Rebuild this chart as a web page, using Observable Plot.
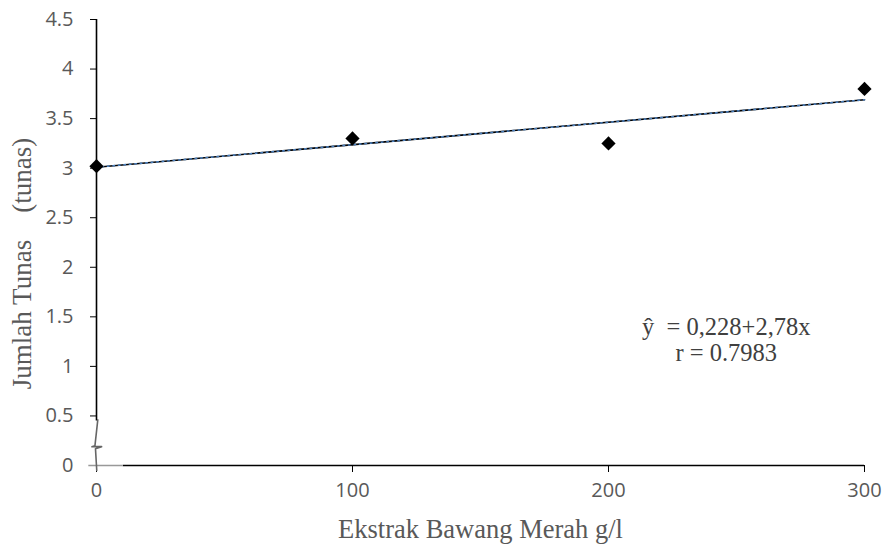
<!DOCTYPE html>
<html>
<head>
<meta charset="utf-8">
<script src="https://cdn.jsdelivr.net/npm/d3@7"></script>
<script src="https://cdn.jsdelivr.net/npm/@observablehq/plot@0.6"></script>
<style>
  body { margin: 0; background: #fff; }
  #chart svg { background: #fff; }
  #chart [aria-label="y-axis tick label"], #chart [aria-label="x-axis tick label"] { fill: #595959; font-size: 20px; }
  #chart [aria-label="y-axis tick label"] text, #chart [aria-label="x-axis tick label"] text { fill: #595959; font-size: 20px; }
</style>
</head>
<body>
<div id="chart"></div>
<script>
// Data
const concentrations = [0, 100, 200, 300];          // Ekstrak Bawang Merah g/l
const shoots = [3.02, 3.30, 3.25, 3.80];             // Jumlah Tunas
const trendX = [0, 300];
const trendY = [3.01, 3.69];
const yTicks = [0, 0.5, 1, 1.5, 2, 2.5, 3, 3.5, 4, 4.5];
const xTicks = [0, 100, 200, 300];
const equationLines = ["ŷ  = 0,228+2,78x", "r = 0.7983"];
const equationAnchor = {x: 246, y: [1.40, 1.13]};
const xTitle = "Ekstrak Bawang Merah g/l";
const yTitle = "Jumlah Tunas    (tunas)";
// axis-break squiggle near the origin (data units)
const breakX = [0.5, -0.6, -1.8, 2.0, -0.4, 0.1];
const breakY = [0.46, 0.20, 0.19, 0.19, 0.17, -0.05];

const points = concentrations.map((x, i) => ({x, y: shoots[i]}));
const trend = trendX.map((x, i) => ({x, y: trendY[i]}));
const brk = breakX.map((x, i) => ({x, y: breakY[i]}));
const eq = equationLines.map((t, i) => ({t, x: equationAnchor.x, y: equationAnchor.y[i]}));

const serif = "'Liberation Serif', 'Times New Roman', serif";

const chart = Plot.plot({
  width: 887,
  height: 548,
  marginLeft: 96,
  marginRight: 23,
  marginTop: 19,
  marginBottom: 83,
  style: {fontFamily: "'Open Sans', sans-serif", color: "#000", background: "#fff"},
  x: {domain: [0, 300]},
  y: {domain: [0, 4.5]},
  marks: [
    Plot.axisY({ticks: yTicks, tickSize: 6, tickPadding: 17, fontSize: 20, label: null, tickFormat: d => String(d)}),
    Plot.axisX({ticks: xTicks, tickSize: 7, tickPadding: 10, fontSize: 20, label: null}),
    Plot.ruleX([0], {y1: 0.45, y2: 4.5, stroke: "#000", strokeWidth: 1.6}),
    Plot.ruleY([0], {x1: 10.5, x2: 300, stroke: "#000", strokeWidth: 1.6}),
    Plot.ruleY([0], {x1: -3, x2: 10.5, stroke: "#999", strokeWidth: 1.6}),
    Plot.line(brk, {x: "x", y: "y", stroke: "#666", strokeWidth: 1.6}),
    Plot.line(trend, {x: "x", y: "y", stroke: "#000", strokeWidth: 1.6}),
    Plot.line(trend, {x: "x", y: "y", stroke: "#4a7ebb", strokeWidth: 1.6, strokeDasharray: "1.5,4"}),
    Plot.dot(points, {x: "x", y: "y", symbol: "diamond2", fill: "#000", stroke: "none", r: 6.4}),
    Plot.text(eq, {x: "x", y: "y", text: "t", fontFamily: serif, fontSize: 24.5, fill: "#404040"}),
    Plot.text([xTitle], {frameAnchor: "bottom", dy: 72, fontFamily: serif, fontSize: 26.5, fill: "#595959"}),
    Plot.text([yTitle], {frameAnchor: "left", textAnchor: "middle", dx: -74, dy: 21, rotate: -90, fontFamily: serif, fontSize: 27, fill: "#595959"})
  ]
});
document.getElementById("chart").appendChild(chart);
</script>
</body>
</html>
